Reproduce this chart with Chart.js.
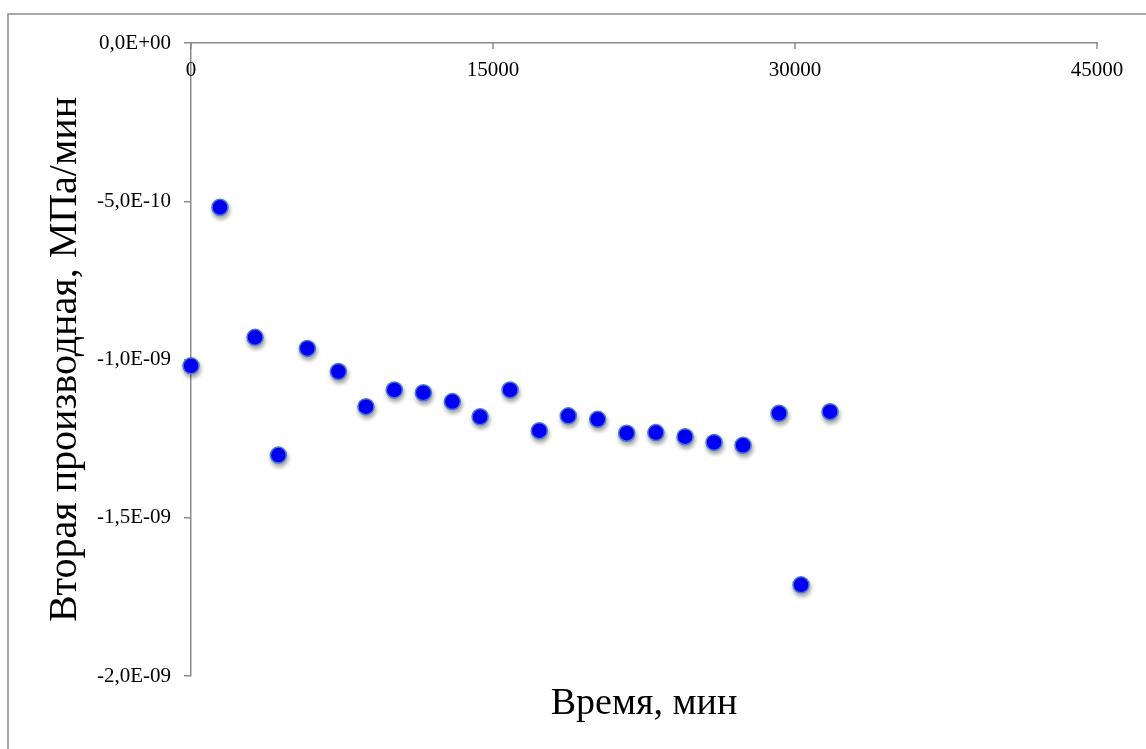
<!DOCTYPE html>
<html lang="ru">
<head>
<meta charset="utf-8">
<title>Вторая производная</title>
<script src="https://cdn.jsdelivr.net/npm/chart.js@4.4.1/dist/chart.umd.min.js"></script>
<style>
    html, body { margin: 0; padding: 0; background: #fff; }
    #chart-box { width: 1146px; height: 749px; }
</style>
</head>
<body>
<div id="chart-box"><canvas id="deriv-chart" width="1146" height="749"></canvas></div>
<script>
const timeMin = [0, 1440, 3180, 4340, 5780, 7320, 8690, 10100, 11540, 12980, 14360, 15850,
    17300, 18740, 20200, 21640, 23090, 24540, 25980, 27420, 29210, 30300, 31740];
const secondDeriv = [-1.020e-9, -5.19e-10, -9.30e-10, -1.302e-9, -9.65e-10, -1.038e-9, -1.149e-9,
    -1.096e-9, -1.105e-9, -1.133e-9, -1.181e-9, -1.096e-9, -1.225e-9, -1.178e-9, -1.189e-9,
    -1.233e-9, -1.231e-9, -1.244e-9, -1.262e-9, -1.271e-9, -1.170e-9, -1.712e-9, -1.165e-9];
const xTicks = [0, 15000, 30000, 45000];
const yTicks = [0, -5e-10, -1e-9, -1.5e-9, -2e-9];
const xTitle = 'Время, мин';
const yTitle = 'Вторая производная, МПа/мин';

const serif = '"Liberation Serif", "DejaVu Serif", serif';

// 0,0E+00 / -5,0E-10 like Excel
function sci(v) {
    if (Math.abs(v) < 1e-20) return '0,0E+00';
    const parts = v.toExponential(1).split('e');
    const n = parseInt(parts[1], 10);
    return parts[0].replace('.', ',') + 'E' + (n < 0 ? '-' : '+') + String(Math.abs(n)).padStart(2, '0');
}

document.addEventListener('DOMContentLoaded', () => {
    const ctx = document.getElementById('deriv-chart').getContext('2d');

    const frame = {
        id: 'frame',
        beforeDraw(chart) {
            const c = chart.ctx;
            c.save();
            c.fillStyle = '#fff';
            c.fillRect(0, 0, chart.width, chart.height);
            c.strokeStyle = '#8c8c8c';
            c.lineWidth = 1.5;
            c.strokeRect(8, 14, chart.width + 50, chart.height + 50);
            c.restore();
        },
        beforeDatasetsDraw(chart) {
            const c = chart.ctx;
            c.save();
            c.shadowColor = 'rgba(0, 0, 0, 0.35)';
            c.shadowBlur = 4;
            c.shadowOffsetX = 1;
            c.shadowOffsetY = 3;
        },
        afterDatasetsDraw(chart) {
            chart.ctx.restore();
        },
        afterDraw(chart) {
            const c = chart.ctx;
            const x = chart.scales.x;
            const area = chart.chartArea;
            c.save();
            // x labels sit under the top axis, ticks point inward
            c.strokeStyle = '#8c8c8c';
            c.lineWidth = 1.5;
            c.fillStyle = '#000';
            c.font = '21px ' + serif;
            c.textAlign = 'center';
            c.textBaseline = 'middle';
            x.ticks.forEach(t => {
                const px = x.getPixelForValue(t.value);
                c.beginPath();
                c.moveTo(px, area.top);
                c.lineTo(px, area.top + 6);
                c.stroke();
                c.fillText(String(t.value), px, area.top + 27);
            });
            c.font = '38px ' + serif;
            c.fillText(xTitle, (area.left + area.right) / 2, 704);
            c.restore();
        }
    };

    new Chart(ctx, {
        type: 'scatter',
        data: {
            datasets: [{
                data: timeMin.map((t, i) => ({ x: t, y: secondDeriv[i] })),
                pointRadius: 8,
                pointHoverRadius: 8,
                pointBackgroundColor: '#0000ff',
                pointBorderColor: '#4a78d2',
                pointBorderWidth: 1.5,
                clip: false
            }]
        },
        options: {
            responsive: false,
            animation: false,
            devicePixelRatio: 1,
            layout: { padding: { left: 0, top: 43, right: 49, bottom: 73 } },
            plugins: {
                legend: { display: false },
                tooltip: { enabled: false }
            },
            scales: {
                x: {
                    type: 'linear',
                    position: 'top',
                    min: xTicks[0],
                    max: xTicks[xTicks.length - 1],
                    afterBuildTicks: s => { s.ticks = xTicks.map(v => ({ value: v })); },
                    afterFit: s => { s.height = 0; },
                    grid: { display: false },
                    border: { display: true, color: '#8c8c8c', width: 1.5 },
                    ticks: { display: false }
                },
                y: {
                    type: 'linear',
                    position: 'left',
                    min: yTicks[yTicks.length - 1],
                    max: yTicks[0],
                    afterBuildTicks: s => { s.ticks = yTicks.map(v => ({ value: v })); },
                    afterFit: s => { s.width = 191; },
                    grid: {
                        display: true,
                        drawOnChartArea: false,
                        drawTicks: true,
                        tickLength: 7,
                        color: '#8c8c8c',
                        lineWidth: 1.5
                    },
                    border: { display: true, color: '#8c8c8c', width: 1.5 },
                    ticks: {
                        padding: 13,
                        color: '#000',
                        font: { family: serif, size: 21 },
                        callback: v => sci(v)
                    },
                    title: {
                        display: true,
                        text: yTitle,
                        color: '#000',
                        font: { family: serif, size: 40 },
                        padding: { top: 41, bottom: 0 }
                    }
                }
            }
        },
        plugins: [frame]
    });
});
</script>
</body>
</html>
